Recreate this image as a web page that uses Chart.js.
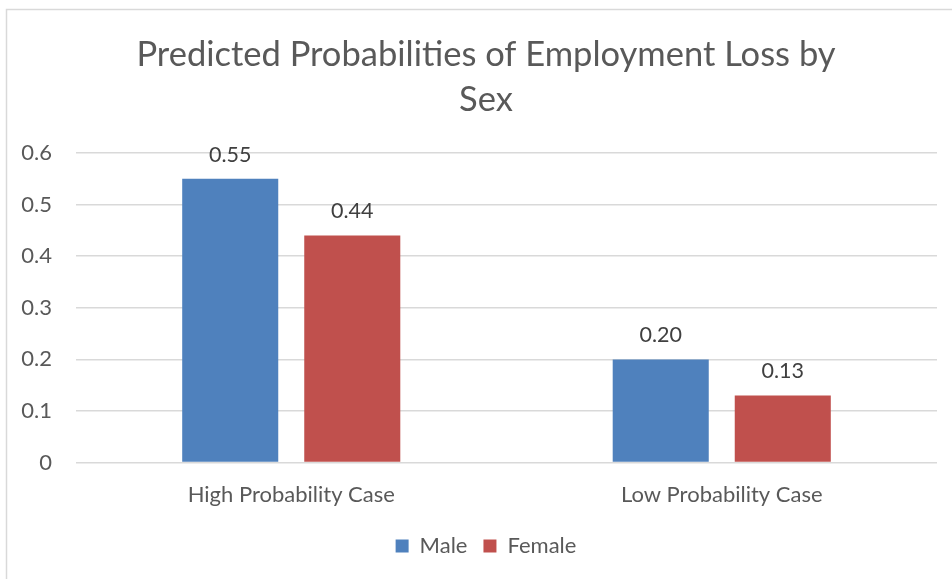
<!DOCTYPE html>
<html>
<head>
<meta charset="utf-8">
<script src="https://cdn.jsdelivr.net/npm/chart.js@4"></script>
<style>
  html, body { margin: 0; padding: 0; background: #fff; overflow: hidden; }
  /* canvas is wider than the window: the reference is cropped on the right */
  #wrap { position: absolute; left: 0; top: 0; width: 972px; height: 579px; }
</style>
</head>
<body>
<div id="wrap"><canvas id="chart"></canvas></div>
<script>
const categories = ['High Probability Case', 'Low Probability Case'];
const maleValues = [0.55, 0.20];
const femaleValues = [0.44, 0.13];
const yTicks = [0, 0.1, 0.2, 0.3, 0.4, 0.5, 0.6];

const textColor = '#595959';
const fontFamily = 'Lato, "Open Sans", sans-serif';

// outer chart border
const borderPlugin = {
    id: 'frame',
    beforeDraw(chart) {
        const ctx = chart.ctx;
        ctx.save();
        ctx.strokeStyle = '#d9d9d9';
        ctx.lineWidth = 1.5;
        ctx.beginPath();
        ctx.moveTo(6.5, 600);
        ctx.lineTo(6.5, 9.5);
        ctx.lineTo(980, 9.5);
        ctx.stroke();
        ctx.restore();
    }
};

// value labels above each bar
const valueLabels = {
    id: 'valueLabels',
    afterDatasetsDraw(chart) {
        const ctx = chart.ctx;
        ctx.save();
        ctx.font = '21.5px ' + fontFamily;
        ctx.fillStyle = '#404040';
        ctx.textAlign = 'center';
        ctx.textBaseline = 'middle';
        chart.data.datasets.forEach((ds, i) => {
            chart.getDatasetMeta(i).data.forEach((bar, j) => {
                ctx.fillText(ds.data[j].toFixed(2), bar.x, bar.y - 24);
            });
        });
        ctx.restore();
    }
};

new Chart(document.getElementById('chart').getContext('2d'), {
    type: 'bar',
    data: {
        labels: categories,
        datasets: [{
            label: 'Male',
            data: maleValues,
            backgroundColor: '#4f81bd'
        }, {
            label: 'Female',
            data: femaleValues,
            backgroundColor: '#c0504d'
        }]
    },
    options: {
        responsive: true,
        maintainAspectRatio: false,
        animation: false,
        datasets: {
            bar: { categoryPercentage: 0.567, barPercentage: 0.787 }
        },
        layout: { padding: { left: 0, right: 0, top: 0, bottom: 12 } },
        plugins: {
            title: {
                display: true,
                text: ['Predicted Probabilities of Employment Loss by', 'Sex'],
                color: textColor,
                font: { family: fontFamily, size: 34.5, weight: 'normal', lineHeight: '45px' },
                padding: { top: 32, bottom: 31 }
            },
            legend: {
                position: 'bottom',
                labels: {
                    color: textColor,
                    font: { family: fontFamily, size: 22 },
                    boxWidth: 13,
                    boxHeight: 13,
                    padding: 16
                }
            },
            tooltip: { enabled: false }
        },
        scales: {
            x: {
                grid: { display: false },
                border: { display: false },
                ticks: {
                    color: textColor,
                    font: { family: fontFamily, size: 22 },
                    padding: 11
                }
            },
            y: {
                min: 0,
                max: 0.6,
                afterFit(scale) { scale.width = 76; },
                afterBuildTicks(scale) { scale.ticks = yTicks.map(v => ({ value: v })); },
                grid: { color: '#d9d9d9', lineWidth: 1.5, drawTicks: false },
                border: { display: false },
                ticks: {
                    color: textColor,
                    font: { family: fontFamily, size: 22 },
                    padding: 24,
                    callback: v => String(Math.round(v * 10) / 10)
                }
            },
            // empty right-hand spacer so the plot ends where the reference does
            spacer: {
                type: 'linear',
                position: 'right',
                afterFit(scale) { scale.width = 35; },
                grid: { display: false, drawTicks: false },
                border: { display: false },
                ticks: { display: false }
            }
        }
    },
    plugins: [borderPlugin, valueLabels]
});
</script>
</body>
</html>
